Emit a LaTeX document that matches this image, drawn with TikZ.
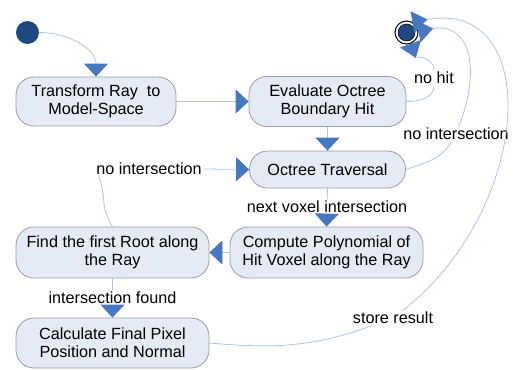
\documentclass[tikz,border=0pt]{standalone}
\usepackage{fontspec}
\setmainfont{Liberation Sans}
\usetikzlibrary{arrows.meta}

\definecolor{boxfill}{HTML}{E4EBF6}
\definecolor{boxline}{HTML}{9C9C9C}
\definecolor{linecol}{HTML}{ADC4E4}
\definecolor{tipcol}{HTML}{4777C0}
\definecolor{dotcol}{HTML}{1F487F}

\begin{document}
\begin{tikzpicture}[x=1pt, y=1pt,
    every node/.style={font=\fontsize{16.2}{18}\selectfont},
    state/.style={draw=boxline, fill=boxfill, line width=0.8pt, rounded corners=18pt, align=center, inner sep=0pt},
    lbl/.style={inner sep=1.5pt},
    flow/.style={draw=linecol, line width=0.8pt, -{Triangle[width=24pt, length=13pt, color=tipcol]}},
    flowback/.style={draw=linecol, line width=0.8pt, -{Triangle[reversed, width=22pt, length=15pt, color=tipcol]}}]
    \useasboundingbox (0,0) rectangle (516,-369);

    % ---------- states ----------
    \node[circle, fill=dotcol, minimum size=23pt, inner sep=0pt] (start) at (27.5,-32.5) {};
    \node[state, minimum width=160pt, minimum height=49pt] (trans) at (96,-101.5) {Transform Ray\ \ to\\Model-Space};
    \node[state, minimum width=157pt, minimum height=50pt] (eval) at (327.5,-101.5) {Evaluate Octree\\Boundary Hit};
    \node[state, minimum width=156pt, minimum height=37pt] (trav) at (327.5,-169.5) {Octree Traversal};
    \node[state, minimum width=193pt, minimum height=51pt] (comp) at (326.5,-252.5) {Compute Polynomial of\\Hit Voxel along the Ray};
    \node[state, minimum width=193pt, minimum height=51pt] (root) at (112.5,-252.5) {Find the first Root along\\the Ray};
    \node[state, minimum width=193pt, minimum height=50pt] (calc) at (112.5,-343) {Calculate Final Pixel\\Position and Normal};

    % final state (ring + dot)
    \node[circle, draw=black, fill=white, line width=1pt, minimum size=23pt, inner sep=0pt] (final) at (406.5,-32.5) {};
    \node[circle, draw=black, fill=dotcol, line width=0.5pt, minimum size=17pt, inner sep=0pt] (finaldot) at (final) {};

    % ---------- labels ----------
    \node[lbl] (nohit) at (434,-78) {no hit};
    \node[lbl] (misstop) at (456,-134) {no intersection};
    \node[lbl] (voxel) at (327,-207) {next voxel intersection};
    \node[lbl] (missleft) at (149,-169) {no intersection};
    \node[lbl] (found) at (112.5,-297.5) {intersection found};
    \node[lbl] (store) at (393,-318) {store result};

    % ---------- transitions ----------
    \draw[flow] (start.east) to[out=0, in=90] (trans.north);
    \draw[flow] (trans.east) -- (eval.west);
    \draw[flow] (eval.south) -- (trav.north);
    \draw[flowback] (eval.east) to[out=0, in=-90] (nohit) to[out=90, in=-70] (final);
    \draw[flowback] (trav.east) to[out=20, in=-120] (misstop) .. controls (484,-60) and (465,-22) .. (final.5);
    \draw[flow] (trav.south) -- (voxel) -- (comp.north);
    \draw[flow] (comp.west) -- (root.east);
    \draw[linecol, line width=0.8pt] (root.north) to[out=120, in=-70, looseness=1.4] ([xshift=4pt]missleft.south west);
    \draw[flow] (missleft.east) -- (trav.west);
    \draw[flow] (root.south) -- (found) -- (calc.north);
    \draw[flowback] (calc.east) to[out=-5, in=200] (store) .. controls (532,-210) and (545,2) .. (final.60);
\end{tikzpicture}
\end{document}
